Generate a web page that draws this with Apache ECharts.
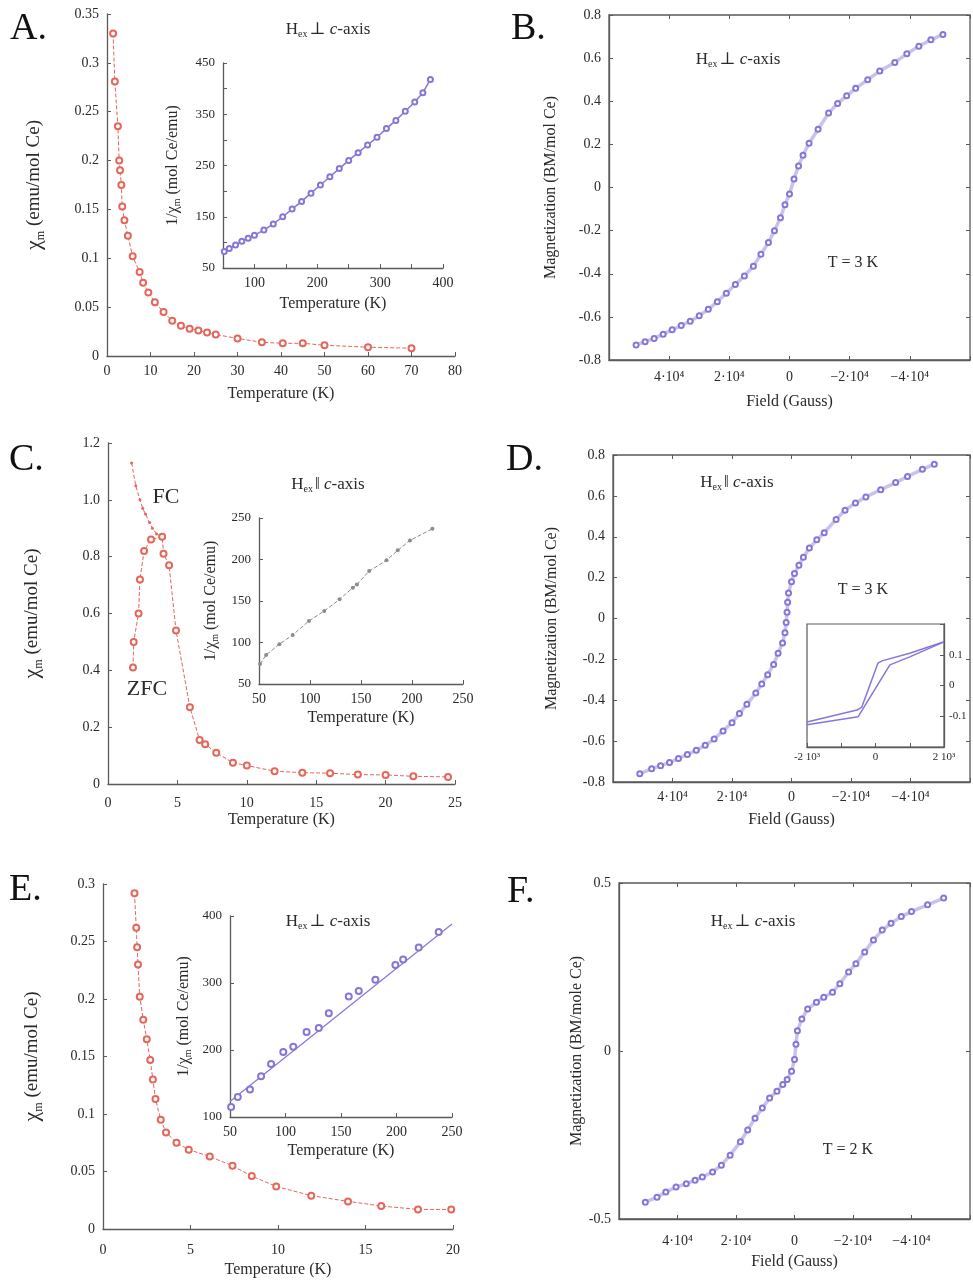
<!DOCTYPE html>
<html>
<head>
<meta charset="UTF-8">
<title>χm / M(H)</title>
<style>
body{margin:0;padding:0;background:#fff;}
#chart{width:973px;height:1281px;}
</style>
</head>
<body>
<div id="chart"></div>
<script src="https://cdn.jsdelivr.net/npm/echarts@6/dist/echarts.min.js"></script>
<script>
// ---- data ----
// A: chi_m vs T (K), H perpendicular to c
var aChi = [[1.4,0.33],[1.8,0.281],[2.5,0.235],[2.8,0.2],[3.0,0.19],[3.3,0.175],[3.5,0.153],[4.0,0.139],[4.8,0.123],[5.9,0.102],[7.5,0.086],[8.3,0.075],[9.5,0.065],[11,0.055],[13,0.045],[15,0.036],[17,0.031],[19,0.028],[21,0.026],[23,0.024],[25,0.022],[30,0.018],[35.6,0.014],[40.4,0.013],[45,0.013],[50,0.011],[60,0.009],[70,0.008]];
// A inset: 1/chi_m vs T
var aInv = [[52,82],[60,88],[70,95],[80,102],[90,108],[100,114],[115,124],[130,136],[145,150],[160,165],[175,180],[190,196],[205,212],[220,228],[235,244],[250,260],[265,275],[280,290],[295,305],[310,322],[325,338],[340,356],[355,374],[368,392],[380,418]];
// B: M (BM/mol Ce) vs H (G), T = 3 K
var bMH = [[51000,-0.73],[48000,-0.715],[45000,-0.7],[42000,-0.68],[39000,-0.66],[36000,-0.64],[33000,-0.62],[30000,-0.595],[27000,-0.565],[24000,-0.53],[21000,-0.49],[18000,-0.45],[15000,-0.41],[12000,-0.365],[9500,-0.31],[7000,-0.255],[5000,-0.2],[3000,-0.14],[1500,-0.08],[0,-0.03],[-1500,0.04],[-3000,0.1],[-4500,0.15],[-6500,0.205],[-9500,0.27],[-13000,0.345],[-16000,0.39],[-19000,0.425],[-22000,0.46],[-26000,0.5],[-30000,0.54],[-35000,0.58],[-39000,0.62],[-43000,0.655],[-47000,0.685],[-51000,0.71]];
// C: chi_m vs T, H parallel to c
var cFC = [[1.7,1.13],[2.0,1.05],[2.3,1.0],[2.5,0.97],[2.7,0.95],[3.0,0.92],[3.2,0.9],[3.5,0.88],[3.8,0.87]];
var cZFC = [[1.8,0.41],[1.85,0.5],[2.2,0.6],[2.3,0.72],[2.6,0.82],[3.1,0.86],[3.9,0.87],[4.0,0.81],[4.4,0.77],[4.9,0.54],[5.9,0.27],[6.6,0.155],[7.0,0.14],[7.8,0.11],[9.0,0.075],[10,0.065],[12,0.045],[14,0.04],[16,0.038],[18,0.033],[20,0.032],[22,0.027],[24.5,0.025]];
var cInv = [[51,74],[57,85],[70,98],[83,109],[99,126],[114,138],[129,152],[142,166],[146,170],[158,186],[175,199],[186,211],[198,223],[220,237]];
// D: M vs H, H parallel to c, T = 3 K
var dMH = [[51000,-0.76],[47000,-0.735],[44000,-0.72],[41000,-0.705],[38000,-0.685],[35000,-0.665],[32000,-0.645],[29000,-0.62],[26000,-0.59],[23000,-0.55],[20000,-0.51],[17500,-0.465],[15000,-0.42],[12000,-0.365],[10000,-0.32],[8000,-0.275],[6000,-0.225],[4500,-0.17],[3000,-0.12],[2200,-0.07],[1800,-0.02],[1500,0.03],[1300,0.08],[1000,0.125],[0,0.18],[-1000,0.22],[-2500,0.26],[-4000,0.3],[-6000,0.345],[-8500,0.385],[-11000,0.42],[-15000,0.485],[-18000,0.53],[-21500,0.565],[-25000,0.595],[-30000,0.63],[-35000,0.665],[-39000,0.695],[-44000,0.73],[-48000,0.755]];
// D inset: low-field loop
var dLoopUp = [[-2000,-0.119],[-540,-0.08],[-400,-0.07],[73,0.073],[190,0.08],[1000,0.105],[2000,0.142]];
var dLoopDown = [[-2000,-0.128],[-510,-0.102],[420,0.067],[1000,0.093],[2000,0.142]];
// E: chi_m vs T, H perpendicular to c
var eChi = [[1.8,0.292],[1.9,0.262],[1.95,0.245],[2.0,0.23],[2.1,0.202],[2.3,0.182],[2.5,0.165],[2.7,0.147],[2.85,0.13],[3.0,0.113],[3.3,0.095],[3.6,0.084],[4.2,0.075],[4.9,0.069],[6.1,0.063],[7.4,0.055],[8.5,0.046],[9.9,0.037],[11.9,0.029],[14,0.024],[15.9,0.02],[18,0.017],[19.9,0.017]];
var eInv = [[51,115],[57,130],[68,141],[78,161],[87,179],[98,197],[107,205],[119,227],[130,233],[139,255],[157,280],[166,288],[181,305],[199,327],[206,335],[220,353],[238,376]];
var eFit = [[50,123],[250,388]];
// F: M (BM/mole Ce) vs H, T = 2 K
var fMH = [[51000,-0.45],[47000,-0.435],[44000,-0.42],[40500,-0.405],[37000,-0.395],[34000,-0.385],[31500,-0.375],[28000,-0.36],[25000,-0.34],[22000,-0.31],[18500,-0.27],[16000,-0.235],[13500,-0.2],[11000,-0.17],[8500,-0.14],[6000,-0.12],[4000,-0.1],[2500,-0.085],[1000,-0.06],[0,-0.025],[-500,0.02],[-1000,0.06],[-2500,0.095],[-4500,0.125],[-7500,0.145],[-10000,0.16],[-13000,0.175],[-15500,0.2],[-18500,0.235],[-21000,0.26],[-24000,0.295],[-27000,0.33],[-30000,0.36],[-33000,0.38],[-36500,0.4],[-40000,0.415],[-45500,0.435],[-51000,0.455]];

// tick labels
var fieldTickVals = [40000, 20000, 0, -20000, -40000];
var fieldTickText = ['4·10⁴', '2·10⁴', '0', '−2·10⁴', '−4·10⁴'];
var loopTickVals = [-2000, 0, 2000];
var loopTickText = ['-2 10³', '0', '2 10³'];

var F = "'Liberation Serif','DejaVu Serif',serif";
var red = '#e5675c', purple = '#8577d8', gray = '#8c8c8c', ink = '#2a2a2a', axc = '#5a5a5a';

var grids = [], xAxes = [], yAxes = [], series = [];

function axis(o) {
  var a = {
    type: 'value', axisLine: {show: true, onZero: false, lineStyle: {color: axc, width: 1.3}},
    axisTick: {show: true, inside: true, length: 4, lineStyle: {color: axc}},
    splitLine: {show: false},
    axisLabel: {fontFamily: F, fontSize: 14, color: ink},
    nameLocation: 'middle',
    nameTextStyle: {fontFamily: F, fontSize: 16, color: ink}
  };
  for (var k in o) a[k] = o[k];
  return a;
}
function lab(o) {
  var l = {fontFamily: F, fontSize: 14, color: ink};
  for (var k in o) l[k] = o[k];
  return l;
}
function pick(vals, txt) {
  return function (v) {
    for (var i = 0; i < vals.length; i++) if (Math.abs(v - vals[i]) < 1e-6) return txt[i];
    return '';
  };
}
function panel(g, x, y, mirror) {
  grids.push(g);
  var gi = grids.length - 1;
  x.gridIndex = gi; y.gridIndex = gi;
  xAxes.push(x); yAxes.push(y);
  var idx = [xAxes.length - 1, yAxes.length - 1];
  if (mirror) {
    xAxes.push(axis({gridIndex: gi, position: 'top', min: x.min, max: x.max, interval: x.interval, inverse: x.inverse,
      axisLine: {show: false, onZero: false}, axisLabel: {show: false}}));
    yAxes.push(axis({gridIndex: gi, position: 'right', min: y.min, max: y.max, interval: y.interval,
      axisLine: {show: false, onZero: false}, axisLabel: {show: false}}));
  }
  return idx;
}
function chiName(sz) {
  return {
    name: '{c|χ}{m|m}{t| (emu/mol Ce)}',
    nameTextStyle: {rich: {
      c: {fontFamily: F, fontSize: sz + 3, color: ink},
      m: {fontFamily: F, fontSize: sz - 7, color: ink, verticalAlign: 'bottom', padding: [0, 0, -2, 0]},
      t: {fontFamily: F, fontSize: sz, color: ink}
    }}
  };
}
function invName() {
  return {
    name: '{t|1/χ}{m|m}{t| (mol Ce/emu)}',
    nameTextStyle: {rich: {
      m: {fontFamily: F, fontSize: 10, color: ink, verticalAlign: 'bottom', padding: [0, 0, -1, 0]},
      t: {fontFamily: F, fontSize: 16, color: ink}
    }}
  };
}
function merge(a, b) { for (var k in b) a[k] = b[k]; return a; }
var oneDec = function (v) { return v === 0 ? '0' : v.toFixed(1); };
var tempName = 'Temperature (K)';

// ---- A ----
var A = panel({left: 107, top: 14, width: 348, height: 342},
  axis({min: 0, max: 80, interval: 10, name: tempName, nameGap: 30}),
  axis(merge({min: 0, max: 0.35, interval: 0.05, nameGap: 62}, chiName(19))));
var Ai = panel({left: 223, top: 63, width: 220, height: 205},
  axis({min: 50, max: 400, interval: 50, name: tempName, nameGap: 28,
    axisLabel: lab({formatter: pick([100, 200, 300, 400], ['100', '200', '300', '400'])})}),
  axis(merge({min: 50, max: 450, interval: 50, nameGap: 42,
    axisLabel: lab({fontSize: 13, formatter: pick([50, 150, 250, 350, 450], ['50', '150', '250', '350', '450'])})}, invName())));

// ---- B ----
var fieldX = function (margin, gap) {
  return axis({min: -60000, max: 60000, interval: 20000, inverse: true, name: 'Field (Gauss)', nameGap: gap,
    axisLabel: lab({margin: margin, formatter: pick(fieldTickVals, fieldTickText)})});
};
var B = panel({left: 609, top: 15, width: 364, height: 345, show: true, borderColor: axc, borderWidth: 1.3},
  fieldX(10, 34),
  axis({min: -0.8, max: 0.8, interval: 0.2, name: 'Magnetization (BM/mol Ce)', nameGap: 50,
    axisLabel: lab({formatter: oneDec})}), true);

// ---- C ----
var C = panel({left: 108, top: 443, width: 347, height: 341},
  axis({min: 0, max: 25, interval: 5, name: tempName, nameGap: 28, axisLabel: lab({margin: 12})}),
  axis(merge({min: 0, max: 1.2, interval: 0.2, nameGap: 65,
    axisLabel: lab({formatter: oneDec})}, chiName(19))));
var Ci = panel({left: 259, top: 518, width: 204, height: 166},
  axis({min: 50, max: 250, interval: 50, name: tempName, nameGap: 26}),
  axis(merge({min: 50, max: 250, interval: 50, nameGap: 40,
    axisLabel: lab({fontSize: 13})}, invName())));

// ---- D ----
var D = panel({left: 613, top: 455, width: 360, height: 327, show: true, borderColor: axc, borderWidth: 1.3},
  fieldX(8, 30),
  axis({min: -0.8, max: 0.8, interval: 0.2, name: 'Magnetization (BM/mol Ce)', nameGap: 53,
    axisLabel: lab({formatter: oneDec})}), true);
var Di = panel({left: 807, top: 624, width: 137, height: 123, show: true, borderColor: axc, borderWidth: 1.2, backgroundColor: '#fff'},
  axis({min: -2000, max: 2000, interval: 1000,
    axisLabel: lab({fontSize: 11, margin: 5, formatter: pick(loopTickVals, loopTickText)})}),
  axis({min: -0.2, max: 0.2, interval: 0.1, position: 'right',
    axisLabel: lab({fontSize: 11, margin: 5, formatter: pick([0.1, 0, -0.1], ['0.1', '0', '-0.1'])})}));

// ---- E ----
var E = panel({left: 103, top: 884, width: 350, height: 345},
  axis({min: 0, max: 20, interval: 5, name: tempName, nameGap: 33, axisLabel: lab({margin: 14})}),
  axis(merge({min: 0, max: 0.3, interval: 0.05, nameGap: 60}, chiName(19))));
var Ei = panel({left: 230, top: 916, width: 222, height: 201},
  axis({min: 50, max: 250, interval: 50, name: tempName, nameGap: 26}),
  axis(merge({min: 100, max: 400, interval: 100, nameGap: 38,
    axisLabel: lab({fontSize: 13})}, invName())));

// ---- F ----
var Fp = panel({left: 619, top: 883, width: 356, height: 336, show: true, borderColor: axc, borderWidth: 1.3},
  fieldX(15, 35),
  axis({min: -0.5, max: 0.5, interval: 0.5, name: 'Magnetization (BM/mole Ce)', nameGap: 34,
    axisLabel: lab({formatter: oneDec})}), true);

function s(ix, data, o) {
  var base = {type: 'line', xAxisIndex: ix[0], yAxisIndex: ix[1], data: data, silent: true, animation: false};
  return merge(base, o);
}
var circ = function (c, sz) { return {symbol: 'emptyCircle', symbolSize: sz, itemStyle: {color: c, borderColor: c, borderWidth: 1.2}}; };
var mh = function (c) {
  return merge(circ(c, 5), {lineStyle: {color: c, width: 3.5, opacity: 0.45}});
};

series.push(s(A, aChi, merge(circ(red, 6), {lineStyle: {color: red, width: 1, type: 'dashed'}})));
series.push(s(Ai, aInv, merge(circ(purple, 5), {lineStyle: {color: purple, width: 1.5}})));
series.push(s(B, bMH, mh(purple)));
series.push(s(C, cFC, {symbol: 'circle', symbolSize: 3, itemStyle: {color: red}, lineStyle: {color: red, width: 1, type: 'dashed'}}));
series.push(s(C, cZFC, merge(circ(red, 6), {lineStyle: {color: red, width: 1, type: 'dashed'}})));
series.push(s(Ci, cInv, {symbol: 'circle', symbolSize: 4, itemStyle: {color: gray}, lineStyle: {color: gray, width: 1, type: 'dashed'}}));
series.push(s(D, dMH, mh(purple)));
series.push(s(Di, dLoopUp, {symbol: 'none', lineStyle: {color: purple, width: 1.5}}));
series.push(s(Di, dLoopDown, {symbol: 'none', lineStyle: {color: purple, width: 1.5}}));
series.push(s(E, eChi, merge(circ(red, 6), {lineStyle: {color: red, width: 1, type: 'dashed'}})));
series.push(s(Ei, eFit, {symbol: 'none', lineStyle: {color: purple, width: 1.2}}));
series.push(s(Ei, eInv, merge(circ(purple, 6), {lineStyle: {width: 0, opacity: 0}})));
series.push(s(Fp, fMH, mh(purple)));

// ---- texts ----
function txt(x, y, text, rich, size) {
  return {type: 'text', x: x, y: y, silent: true,
    style: {text: text, rich: rich, fontFamily: F, fontSize: size || 17, fill: ink, align: 'center', verticalAlign: 'middle'}};
}
var hRich = {
  h: {fontFamily: F, fontSize: 17, color: ink},
  s: {fontFamily: F, fontSize: 10, color: ink, verticalAlign: 'bottom', padding: [0, 2, -1, 0]},
  i: {fontFamily: F, fontSize: 17, color: ink, fontStyle: 'italic'}
};
var perp = '{h|H}{s|ex}{h|⊥ }{i|c}{h|-axis}';
var para = '{h|H}{s|ex}{h|‖ }{i|c}{h|-axis}';
function letter(x, y, t) {
  return {type: 'text', x: x, y: y, silent: true, style: {text: t, fontFamily: F, fontSize: 38, fill: '#111'}};
}
var graphics = [
  letter(10, 10, 'A.'), letter(511, 10, 'B.'), letter(9, 441, 'C.'),
  letter(506, 441, 'D.'), letter(9, 871, 'E.'), letter(507, 873, 'F.'),
  txt(328, 30, perp, hRich), txt(738, 60, perp, hRich), txt(853, 263, 'T = 3 K', null, 16),
  txt(166, 497, 'FC', null, 22), txt(147, 689, 'ZFC', null, 22), txt(328, 485, para, hRich),
  txt(737, 483, para, hRich), txt(863, 590, 'T = 3 K', null, 16),
  txt(328, 922, perp, hRich),
  txt(753, 922, perp, hRich), txt(848, 1150, 'T = 2 K', null, 16)
];

var chart = echarts.init(document.getElementById('chart'), null, {renderer: 'canvas'});
chart.setOption({
  backgroundColor: '#fff',
  animation: false,
  grid: grids,
  xAxis: xAxes,
  yAxis: yAxes,
  series: series,
  graphic: graphics
});
</script>
</body>
</html>
